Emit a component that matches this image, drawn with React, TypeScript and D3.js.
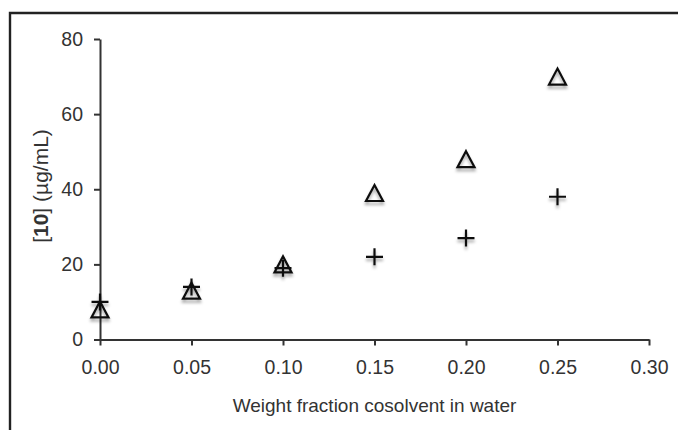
import React, { useEffect, useRef } from "react"
import * as d3 from "d3"

// weight fraction of cosolvent (x) and measured concentration (µg/mL)
const fractions = [0, 0.05, 0.1, 0.15, 0.2, 0.25]
const triangleValues = [8, 13, 20, 39, 48, 70]
const plusValues = [10, 14, 19, 22, 27, 38]
const xTicks = [0, 0.05, 0.1, 0.15, 0.2, 0.25, 0.3]
const yTicks = [0, 20, 40, 60, 80]

const W = 678
const H = 430
const FONT = "Arial, 'Liberation Sans', sans-serif"
const TEXT = "#333"

export default function App() {
  const ref = useRef<SVGSVGElement>(null)

  useEffect(() => {
    const svg = d3.select(ref.current)
    svg.selectAll("*").remove()

    const x = d3.scaleLinear().domain([0, 0.3]).range([100, 649])
    const y = d3.scaleLinear().domain([0, 80]).range([339.5, 39])

    const defs = svg.append("defs")
    const f = defs.append("filter").attr("id", "shadow")
      .attr("x", "-50%").attr("y", "-50%").attr("width", "200%").attr("height", "200%")
    f.append("feDropShadow").attr("dx", 0).attr("dy", 3).attr("stdDeviation", 1.8)
      .attr("flood-color", "#000").attr("flood-opacity", 0.35)

    // frame (top and left only, the rest is cropped)
    svg.append("path")
      .attr("d", `M10,${H} L10,13 L${W},13`)
      .attr("fill", "none").attr("stroke", "#222").attr("stroke-width", 2.4)

    const xAxis = svg.append("g")
      .attr("transform", `translate(0,${y(0)})`)
      .call(d3.axisBottom(x).tickValues(xTicks).tickFormat(d3.format(".2f"))
        .tickSize(6).tickSizeOuter(0).tickPadding(15))
    const yAxis = svg.append("g")
      .attr("transform", `translate(${x(0)},0)`)
      .call(d3.axisLeft(y).tickValues(yTicks).tickFormat(d3.format("d"))
        .tickSize(6).tickSizeOuter(0).tickPadding(11))

    ;[xAxis, yAxis].forEach(g => {
      g.select(".domain").attr("stroke", "#333").attr("stroke-width", 2)
      g.selectAll(".tick line").attr("stroke", "#333").attr("stroke-width", 2)
      g.selectAll(".tick text").attr("fill", TEXT)
        .attr("font-family", FONT).attr("font-size", 19.5)
    })

    // axis titles
    svg.append("text")
      .attr("x", x(0.15)).attr("y", 412)
      .attr("text-anchor", "middle")
      .attr("font-family", FONT).attr("font-size", 19).attr("fill", TEXT)
      .text("Weight fraction cosolvent in water")

    const yt = svg.append("text")
      .attr("transform", `translate(48,186) rotate(-90)`)
      .attr("text-anchor", "middle")
      .attr("font-family", FONT).attr("font-size", 21).attr("fill", TEXT)
    yt.append("tspan").text("[")
    yt.append("tspan").attr("font-weight", "bold").text("10")
    yt.append("tspan").text("] (µg/mL)")

    const marks = svg.append("g").attr("filter", "url(#shadow)")

    // plus series
    const plus = d3.path()
    fractions.forEach((fr, i) => {
      const cx = x(fr), cy = y(plusValues[i])
      plus.moveTo(cx - 8.5, cy); plus.lineTo(cx + 8.5, cy)
      plus.moveTo(cx, cy - 8.5); plus.lineTo(cx, cy + 8.5)
    })
    marks.append("path").attr("d", plus.toString())
      .attr("fill", "none").attr("stroke", "#111").attr("stroke-width", 2.2)

    // triangle series
    marks.selectAll("path.tri")
      .data(fractions)
      .join("path")
      .attr("class", "tri")
      .attr("d", (fr, i) => {
        const cx = x(fr), cy = y(triangleValues[i])
        return `M${cx},${cy - 8} L${cx + 8.5},${cy + 8} L${cx - 8.5},${cy + 8} Z`
      })
      .attr("fill", "none").attr("stroke", "#111").attr("stroke-width", 2.2)
      .attr("stroke-linejoin", "miter")
  }, [])

  return (
    <svg ref={ref} width={W} height={H}
      style={{ position: "absolute", left: 0, top: 0, background: "#fff" }} />
  )
}
